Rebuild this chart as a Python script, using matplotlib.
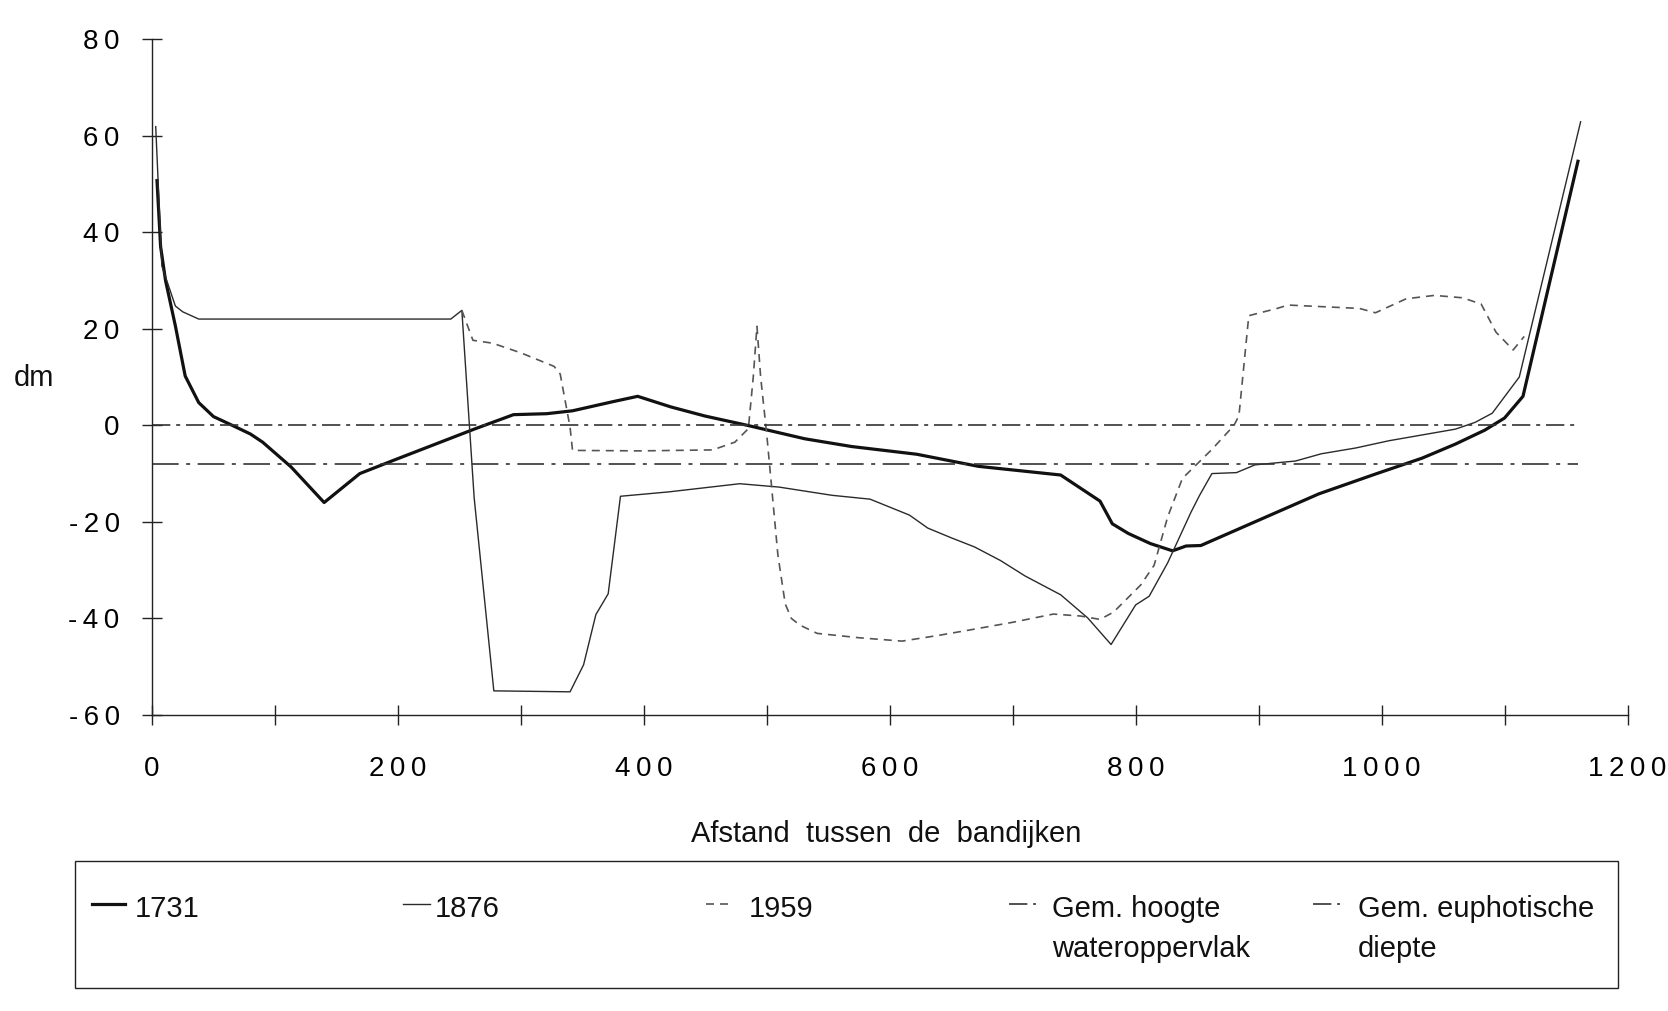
import matplotlib
matplotlib.use("Agg")
import matplotlib.pyplot as plt
from matplotlib.lines import Line2D
from matplotlib.patches import Rectangle
from matplotlib.ticker import FixedLocator, FixedFormatter

plt.rcParams['font.family'] = ['Liberation Sans', 'DejaVu Sans']

# ---------------- data ----------------
x_1731 = [4, 7, 11, 19, 27, 38, 50, 66, 80, 90, 113, 140, 169, 197, 262, 294,
          321, 342, 375, 395, 422, 450, 484, 531, 569, 622, 672, 739, 771, 781,
          794, 812, 830, 841, 853, 949, 995, 1033, 1060, 1084, 1100, 1115, 1160]
y_1731 = [51, 37, 30, 20.6, 10.2, 4.7, 1.8, -0.1, -1.8, -3.5, -8.6, -16.0, -10.0,
          -7.2, -0.8, 2.2, 2.4, 3.0, 4.9, 6.0, 3.8, 1.9, 0.0, -2.8, -4.4, -6.0,
          -8.5, -10.3, -15.7, -20.4, -22.4, -24.5, -26.0, -25.0, -24.9, -14.2,
          -10.1, -6.8, -3.9, -1.0, 1.5, 6.0, 55]

x_1876 = [3, 8, 19, 25, 38, 100, 243, 252, 262, 278, 340, 351, 361, 371, 381,
          420, 478, 510, 553, 584, 616, 631, 650, 669, 690, 710, 739, 761, 780,
          800, 811, 826, 845, 852, 862, 882, 897, 930, 951, 979, 1006, 1033,
          1060, 1076, 1090, 1112, 1162]
y_1876 = [62, 33, 24.7, 23.5, 22.0, 22.0, 22.0, 23.8, -15.0, -55.0, -55.2, -49.6,
          -39.2, -34.9, -14.7, -13.8, -12.1, -12.8, -14.5, -15.3, -18.6, -21.3,
          -23.3, -25.2, -28.0, -31.2, -35.1, -39.9, -45.4, -37.2, -35.4, -28.5,
          -18.0, -14.5, -10.0, -9.8, -8.2, -7.4, -5.9, -4.7, -3.2, -2.0, -0.8,
          0.6, 2.5, 10.0, 63]

x_1959 = [252, 261, 277, 300, 327, 332, 340, 342, 397, 456, 474, 485, 489, 492,
          495, 500, 504, 509, 515, 520, 527, 541, 575, 610, 640, 667, 700, 733,
          755, 771, 782, 804, 815, 826, 838, 862, 880, 884, 892, 915, 924, 982,
          995, 1020, 1043, 1066, 1081, 1093, 1107, 1116]
y_1959 = [23.8, 17.6, 17.0, 15.0, 12.2, 10.6, -0.4, -5.2, -5.3, -5.1, -3.5, -0.7,
          10.0, 20.5, 10.0, -2.0, -13.0, -26.8, -37.0, -40.0, -41.4, -43.1, -44.0,
          -44.7, -43.5, -42.3, -40.8, -39.1, -39.5, -40.2, -38.7, -33.1, -29.0,
          -19.0, -11.0, -5.0, 0.0, 2.0, 22.7, 24.2, 24.9, 24.2, 23.3, 26.2, 26.9,
          26.4, 25.1, 19.3, 15.6, 18.4]

x_water = [0, 1160]
y_water = [0, 0]
x_euph = [0, 1160]
y_euph = [-8, -8]

y_ticks = [-60, -40, -20, 0, 20, 40, 60, 80]
y_tick_labels = ["-\u20096\u20090", "-\u20094\u20090", "-\u20092\u20090", "0",
                 "2\u20090", "4\u20090", "6\u20090", "8\u20090"]
x_major = [0, 200, 400, 600, 800, 1000, 1200]
x_minor = [100, 300, 500, 700, 900, 1100]
x_tick_labels = ["0", "2\u20090\u20090", "4\u20090\u20090", "6\u20090\u20090",
                 "8\u20090\u20090", "1\u20090\u20090\u20090", "1\u20092\u20090\u20090"]

series_labels = ["1731", "1876", "1959", "Gem. hoogte\nwateroppervlak",
                 "Gem. euphotische\ndiepte"]
x_title = "Afstand  tussen  de  bandijken"
y_title = "dm"

# ---------------- figure ----------------
W, H = 1668, 1011
fig = plt.figure(figsize=(W / 100, H / 100), dpi=100)
fig.patch.set_facecolor("white")


def fx(px):
    return px / W


def fy(py):
    return 1 - py / H


ax_left, ax_right, ax_top, ax_bottom = 152, 1627.5, 39, 715
ax = fig.add_axes([fx(ax_left), fy(ax_bottom), (ax_right - ax_left) / W,
                   (ax_bottom - ax_top) / H])
ax.set_xlim(0, 1200)
ax.set_ylim(-60, 80)

styles = [
    dict(color="#111111", lw=2.3, ls="-"),
    dict(color="#2a2a2a", lw=1.0, ls="-"),
    dict(color="#555555", lw=1.2, ls=(0, (4.8, 3.6))),
    dict(color="#333333", lw=1.2, ls=(0, (11, 3.5, 2.4, 3.5))),
    dict(color="#333333", lw=1.2, ls=(0, (16, 4.5, 2.4, 4.5))),
]
legend_ls = ["-", "-", (0, (4.8, 3.6)), (0, (11, 3.5, 2.4, 3.5)),
             (0, (11, 3.5, 2.4, 3.5))]

xs = [x_1731, x_1876, x_1959, x_water, x_euph]
ys = [y_1731, y_1876, y_1959, y_water, y_euph]
for xv, yv, st, lab in zip(xs, ys, styles, series_labels):
    ax.plot(xv, yv, color=st["color"], lw=st["lw"], linestyle=st["ls"],
            label=lab, solid_joinstyle="round", solid_capstyle="butt")

for s in ["top", "right"]:
    ax.spines[s].set_visible(False)
for s in ["left", "bottom"]:
    ax.spines[s].set_linewidth(1.0)
    ax.spines[s].set_color("#222222")

ax.yaxis.set_major_locator(FixedLocator(y_ticks))
ax.yaxis.set_major_formatter(FixedFormatter(y_tick_labels))
ax.xaxis.set_major_locator(FixedLocator(x_major))
ax.xaxis.set_major_formatter(FixedFormatter(x_tick_labels))
ax.xaxis.set_minor_locator(FixedLocator(x_minor))

ax.tick_params(axis="y", which="major", direction="inout", length=14.5, width=1.0,
               color="#222222", labelsize=20, pad=16)
ax.tick_params(axis="x", which="both", direction="inout", length=14.5, width=1.0,
               color="#222222", labelsize=20, pad=22)

# axis titles
fig.text(fx(886.6), fy(834), x_title, fontsize=21, ha="center", va="center",
         color="#111111")
fig.text(fx(34), fy(378), y_title, fontsize=21, ha="center", va="center",
         color="#111111")

# legend (manual frame, keys and labels)
fig.add_artist(Rectangle((fx(75), fy(988)), (1618 - 75) / W, (988 - 861) / H,
                         transform=fig.transFigure, fill=False,
                         edgecolor="#222222", lw=1.0))
handle_x = [(92, 125), (403, 430), (706, 728), (1009, 1036), (1313, 1340)]
text_x = [134.6, 434.7, 748.8, 1052, 1357.5]
handle_y = 904
base_y = 917
line_gap = 40
for (hx0, hx1), tx, st, lls, lab in zip(handle_x, text_x, styles, legend_ls,
                                        series_labels):
    fig.add_artist(Line2D([fx(hx0), fx(hx1)], [fy(handle_y), fy(handle_y)],
                          transform=fig.transFigure, color=st["color"],
                          lw=st["lw"], linestyle=lls))
    for i, line in enumerate(lab.split("\n")):
        fig.text(fx(tx), fy(base_y + i * line_gap), line, fontsize=21,
                 ha="left", va="baseline", color="#111111")

fig.savefig("out.png", dpi=100, facecolor="white")
